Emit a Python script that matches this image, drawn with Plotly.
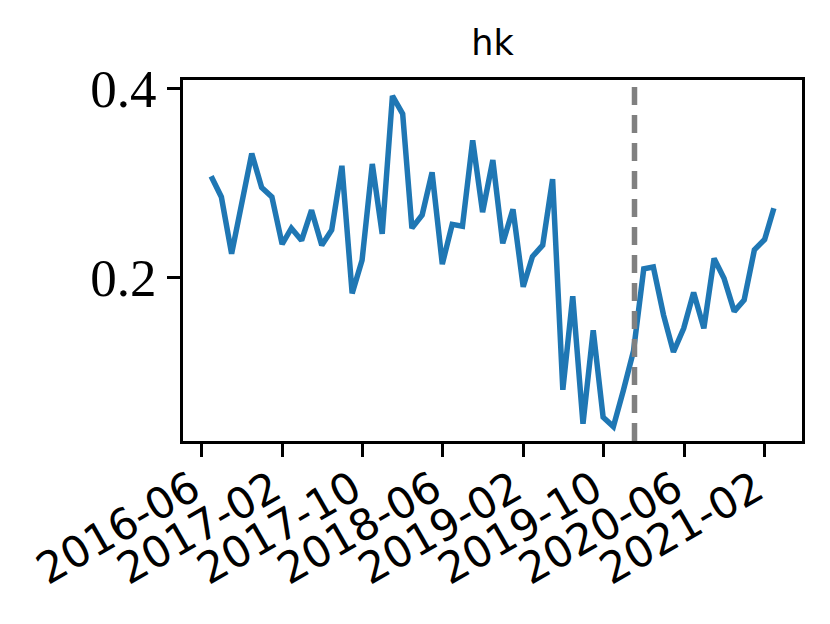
import pandas as pd
import plotly.graph_objects as go

# ---- data ----
start_month_end = "2016-06-30"
values = [0.307, 0.285, 0.225, 0.275, 0.331, 0.295, 0.285, 0.235, 0.252, 0.239,
          0.271, 0.234, 0.250, 0.318, 0.183, 0.218, 0.320, 0.246, 0.392, 0.373,
          0.252, 0.266, 0.311, 0.214, 0.256, 0.254, 0.345, 0.269, 0.324, 0.236,
          0.272, 0.190, 0.222, 0.234, 0.304, 0.081, 0.180, 0.045, 0.144, 0.052,
          0.042, 0.080, 0.122, 0.209, 0.211, 0.160, 0.121, 0.146, 0.184, 0.146,
          0.220, 0.199, 0.164, 0.176, 0.229, 0.240, 0.273]
dates = pd.date_range(start_month_end, periods=len(values), freq="ME")
x_tick_labels = ["2016-06", "2017-02", "2017-10", "2018-06", "2019-02",
                 "2019-10", "2020-06", "2021-02"]
y_tick_vals = [0.2, 0.4]
y_tick_labels = ["0.2", "0.4"]
cutoff_date = "2020-01-03"
title_text = "hk"

# ---- figure ----
fig = go.Figure()
fig.add_trace(go.Scatter(x=dates, y=values, mode="lines",
                         line=dict(color="#1f77b4", width=5.5),
                         showlegend=False, hoverinfo="skip"))

fig.add_shape(type="line", x0=cutoff_date, x1=cutoff_date, y0=0, y1=1,
              xref="x", yref="paper",
              line=dict(color="#808080", width=5.5, dash="18px,10px"))

span = dates[-1] - dates[0]
x_min = dates[0] - span * 0.05
x_max = dates[-1] + span * 0.05

W, H = 822, 616
fig.update_layout(
    width=W, height=H,
    margin=dict(l=175, r=28, t=72, b=183, pad=0),
    paper_bgcolor="white", plot_bgcolor="white",
    title=dict(text=title_text, x=0.5, xref="paper", xanchor="center",
               y=1 - 47 / H, yref="container", yanchor="bottom",
               font=dict(family="DejaVu Sans", size=35, color="black")),
)
fig.update_xaxes(
    range=[x_min, x_max],
    automargin=False,
    tickmode="array",
    tickvals=[pd.Timestamp(t + "-01") for t in x_tick_labels],
    ticktext=x_tick_labels,
    tickangle=-30,
    ticklabelshift=-9,
    ticklabelstandoff=-10,
    ticks="outside", ticklen=13, tickwidth=3, tickcolor="black",
    tickfont=dict(family="DejaVu Sans", size=43, color="black"),
    showline=True, linewidth=3, linecolor="black", mirror=True,
    showgrid=False, zeroline=False,
)
fig.update_yaxes(
    range=[0.0268, 0.4088],
    automargin=False,
    tickmode="array", tickvals=y_tick_vals, ticktext=y_tick_labels,
    ticks="outside", ticklen=13, tickwidth=3, tickcolor="black",
    tickfont=dict(family="Liberation Serif", size=53, color="black"),
    showline=True, linewidth=3, linecolor="black", mirror=True,
    showgrid=False, zeroline=False,
)

fig.write_html("out.html")
